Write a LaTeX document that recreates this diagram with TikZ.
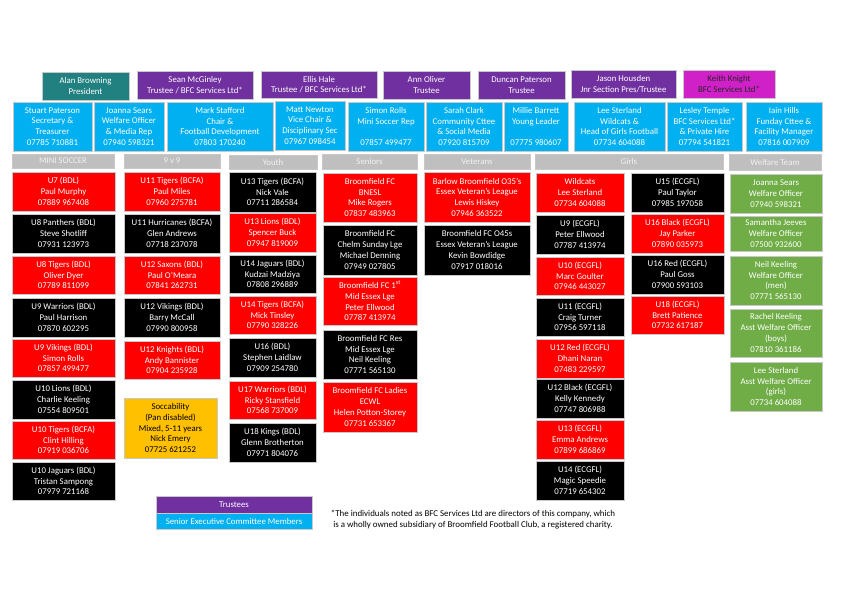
\documentclass[tikz,border=0pt]{standalone}
\usepackage{fontspec}
\setmainfont{Carlito}
\definecolor{cteal}{RGB}{33,128,128}
\definecolor{cpurple}{RGB}{112,48,160}
\definecolor{cmagenta}{RGB}{208,32,200}
\definecolor{cblue}{RGB}{0,176,240}
\definecolor{cred}{RGB}{255,0,0}
\definecolor{cgray}{RGB}{191,191,191}
\definecolor{cyellow}{RGB}{255,192,0}
\definecolor{cgreen}{RGB}{112,173,71}
\definecolor{cline}{RGB}{200,200,200}
\tikzset{
  box/.style={draw=cline, line width=0.6pt, inner sep=0pt, align=center,
    font=\fontsize{8.8}{10.7}\selectfont, text=white},
  teal/.style={fill=cteal},
  trustee/.style={fill=cpurple},
  director/.style={fill=cmagenta, text=black!85},
  exec/.style={fill=cblue},
  head/.style={fill=cgray, text=white!95!black},
  redteam/.style={fill=cred},
  blackteam/.style={fill=black},
  yellowbox/.style={fill=cyellow, text=black},
  welfare/.style={fill=cgreen},
}
\newcommand{\bx}[7]{\node[box,#6,minimum width={(#4-#2)*1pt},minimum height={(#5-#3)*1pt}] (#1) at ({(#2+#4)/2},{(#3+#5)/2}) {#7};}
\begin{document}
\begin{tikzpicture}[x=1pt,y=-1pt]
\fill[white] (0,0) rectangle (850,601);
\useasboundingbox (0,0) rectangle (850,601);
% trustees row
\bx{tA}{42}{72}{129}{100}{teal}{Alan Browning\\President}
\bx{tB}{137}{71}{253}{99}{trustee}{Sean McGinley\\Trustee / BFC Services Ltd*}
\bx{tC}{261}{71}{377}{98}{trustee}{Ellis Hale\\Trustee / BFC Services Ltd*}
\bx{tD}{383}{71}{470}{99}{trustee}{Ann Oliver\\Trustee}
\bx{tE}{478}{71}{565}{99}{trustee}{Duncan Paterson\\Trustee}
\bx{tF}{571}{70}{676}{98}{trustee}{Jason Housden\\Jnr Section Pres/Trustee}
\bx{tG}{683}{70}{775}{98}{director}{Keith Knight\\BFC Services Ltd*}
% senior executive row
\bx{s1}{13}{102}{92}{151}{exec}{Stuart Paterson\\Secretary \&\\Treasurer\\07785 710881}
\bx{s2}{94}{102}{164}{151}{exec}{Joanna Sears\\Welfare Officer\\\& Media Rep\\07940 598321}
\bx{s3}{167}{102}{273}{151}{exec}{Mark Stafford\\Chair \&\\Football Development\\07803 170240}
\bx{s4}{275}{101}{345}{150}{exec}{Matt Newton\\Vice Chair \&\\Disciplinary Sec\\07967 098454}
\bx{s5}{348}{102}{424}{151}{exec}{Simon Rolls\\Mini Soccer Rep\\\mbox{}\\07857 499477}
\bx{s6}{426}{102}{502}{151}{exec}{Sarah Clark\\Community Cttee\\\& Social Media\\07920 815709}
\bx{s7}{504}{102}{568}{151}{exec}{Millie Barrett\\Young Leader\\\mbox{}\\07775 980607}
\bx{s8}{574}{102}{665}{151}{exec}{Lee Sterland\\Wildcats \&\\Head of Girls Football\\07734 604088}
\bx{s9}{667}{102}{742}{151}{exec}{Lesley Temple\\BFC Services Ltd*\\\& Private Hire\\07794 541821}
\bx{s10}{746}{102}{822}{151}{exec}{Iain Hills\\Funday Cttee \&\\Facility Manager\\07816 007909}
% headers
\bx{h1}{12}{154}{114}{168}{head}{MINI SOCCER}
\bx{h2}{124}{154}{220}{168}{head}{9 v 9}
\bx{h3}{229}{155}{317}{169}{head}{Youth}
\bx{h4}{322}{154}{417}{169}{head}{Seniors}
\bx{h5}{424}{154}{530}{169}{head}{Veterans}
\bx{h6}{535}{154}{723}{169}{head}{Girls}
\bx{h7}{729}{154}{821}{170}{head}{Welfare Team}
% mini soccer
\bx{m1}{12}{172}{115}{211}{redteam}{U7 (BDL)\\Paul Murphy\\07889 967408}
\bx{m2}{12}{214}{115}{253}{blackteam}{U8 Panthers (BDL)\\Steve Shotliff\\07931 123973}
\bx{m3}{12}{256}{115}{294}{redteam}{U8 Tigers (BDL)\\Oliver Dyer\\07789 811099}
\bx{m4}{12}{298}{115}{337}{blackteam}{U9 Warriors (BDL)\\Paul Harrison\\07870 602295}
\bx{m5}{12}{339}{115}{377}{redteam}{U9 Vikings (BDL)\\Simon Rolls\\07857 499477}
\bx{m6}{12}{380}{115}{419}{blackteam}{U10 Lions (BDL)\\Charlie Keeling\\07554 809501}
\bx{m7}{12}{421}{115}{459}{redteam}{U10 Tigers (BCFA)\\Clint Hilling\\07919 036706}
\bx{m8}{12}{462}{115}{500}{blackteam}{U10 Jaguars (BDL)\\Tristan Sampong\\07979 721168}
% 9 v 9
\bx{n1}{124}{172}{220}{211}{redteam}{U11 Tigers (BCFA)\\Paul Miles\\07960 275781}
\bx{n2}{124}{214}{220}{253}{blackteam}{U11 Hurricanes (BCFA)\\Glen Andrews\\07718 237078}
\bx{n3}{124}{256}{220}{294}{redteam}{U12 Saxons (BDL)\\Paul O’Meara\\07841 262731}
\bx{n4}{124}{298}{220}{337}{blackteam}{U12 Vikings (BDL)\\Barry McCall\\07990 800958}
\bx{n5}{124}{341}{220}{379}{redteam}{U12 Knights (BDL)\\Andy Bannister\\07904 235928}
\bx{n6}{124}{398}{217}{458}{yellowbox}{Soccability\\(Pan disabled)\\Mixed, 5-11 years\\Nick Emery\\07725 621252}
% youth
\bx{y1}{229}{172}{316}{212}{blackteam}{U13 Tigers (BCFA)\\Nick Vale\\07711 286584}
\bx{y2}{229}{213}{316}{252}{redteam}{U13 Lions (BDL)\\Spencer Buck\\07947 819009}
\bx{y3}{229}{255}{316}{293}{blackteam}{U14 Jaguars (BDL)\\Kudzai Madziya\\07808 296889}
\bx{y4}{229}{296}{316}{334}{redteam}{U14 Tigers (BCFA)\\Mick Tinsley\\07790 328226}
\bx{y5}{229}{338}{316}{377}{blackteam}{U16 (BDL)\\Stephen Laidlaw\\07909 254780}
\bx{y6}{229}{381}{316}{419}{redteam}{U17 Warriors (BDL)\\Ricky Stansfield\\07568 737009}
\bx{y7}{229}{423}{316}{462}{blackteam}{U18 Kings (BDL)\\Glenn Brotherton\\07971 804076}
% seniors
\bx{se1}{323}{173}{417}{222}{redteam}{Broomfield FC\\BNESL\\Mike Rogers\\07837 483963}
\bx{se2}{323}{225}{417}{275}{blackteam}{Broomfield FC\\Chelm Sunday Lge\\Michael Denning\\07949 027805}
\bx{se3}{323}{277}{417}{325}{redteam}{Broomfield FC 1\textsuperscript{st}\\Mid Essex Lge\\Peter Ellwood\\07787 413974}
\bx{se4}{323}{330}{417}{379}{blackteam}{Broomfield FC Res\\Mid Essex Lge\\Neil Keeling\\07771 565130}
\bx{se5}{323}{382}{417}{432}{redteam}{Broomfield FC Ladies\\ECWL\\Helen Potton-Storey\\07731 653367}
% veterans
\bx{v1}{424}{172}{530}{222}{redteam}{Barlow Broomfield O35’s\\Essex Veteran’s League\\Lewis Hiskey\\07946 363522}
\bx{v2}{424}{225}{530}{275}{blackteam}{Broomfield FC O45s\\Essex Veteran’s League\\Kevin Bowdidge\\07917 018016}
% girls
\bx{g1}{536}{173}{624}{212}{redteam}{Wildcats\\Lee Sterland\\07734 604088}
\bx{g2}{536}{215}{624}{254}{blackteam}{U9 (ECGFL)\\Peter Ellwood\\07787 413974}
\bx{g3}{536}{257}{624}{295}{redteam}{U10 (ECGFL)\\Marc Goulter\\07946 443027}
\bx{g4}{536}{298}{624}{336}{blackteam}{U11 (ECGFL)\\Craig Turner\\07956 597118}
\bx{g5}{536}{339}{624}{378}{redteam}{U12 Red (ECGFL)\\Dhani Naran\\07483 229597}
\bx{g6}{536}{379}{624}{418}{blackteam}{U12 Black (ECGFL)\\Kelly Kennedy\\07747 806988}
\bx{g7}{536}{420}{624}{459}{redteam}{U13 (ECGFL)\\Emma Andrews\\07899 686869}
\bx{g8}{536}{461}{624}{500}{blackteam}{U14 (ECGFL)\\Magic Speedie\\07719 654302}
\bx{g9}{631}{173}{724}{212}{blackteam}{U15 (ECGFL)\\Paul Taylor\\07985 197058}
\bx{g10}{631}{214}{724}{253}{redteam}{U16 Black (ECGFL)\\Jay Parker\\07890 035973}
\bx{g11}{631}{255}{724}{294}{blackteam}{U16 Red (ECGFL)\\Paul Goss\\07900 593103}
\bx{g12}{631}{296}{724}{334}{redteam}{U18 (ECGFL)\\Brett Patience\\07732 617187}
% welfare
\bx{w1}{730}{174}{822}{213}{welfare}{Joanna Sears\\Welfare Officer\\07940 598321}
\bx{w2}{730}{216}{822}{251}{welfare}{Samantha Jeeves\\Welfare Officer\\07500 932600}
\bx{w3}{730}{256}{822}{305}{welfare}{Neil Keeling\\Welfare Officer\\(men)\\07771 565130}
\bx{w4}{730}{309}{822}{357}{welfare}{Rachel Keeling\\Asst Welfare Officer\\(boys)\\07810 361186}
\bx{w5}{730}{362}{822}{411}{welfare}{Lee Sterland\\Asst Welfare Officer\\(girls)\\07734 604088}
% legend
\bx{L1}{156}{496}{312}{513}{trustee}{Trustees}
\bx{L2}{156}{513}{312}{529}{exec}{Senior Executive Committee Members}
\node[align=center, inner sep=0pt, font=\fontsize{8.9}{10.4}\selectfont] (note) at (473,519.5)
  {*The individuals noted as BFC Services Ltd are directors of this company, which\\is a wholly owned subsidiary of Broomfield Football Club, a registered charity.};
\end{tikzpicture}
\end{document}
